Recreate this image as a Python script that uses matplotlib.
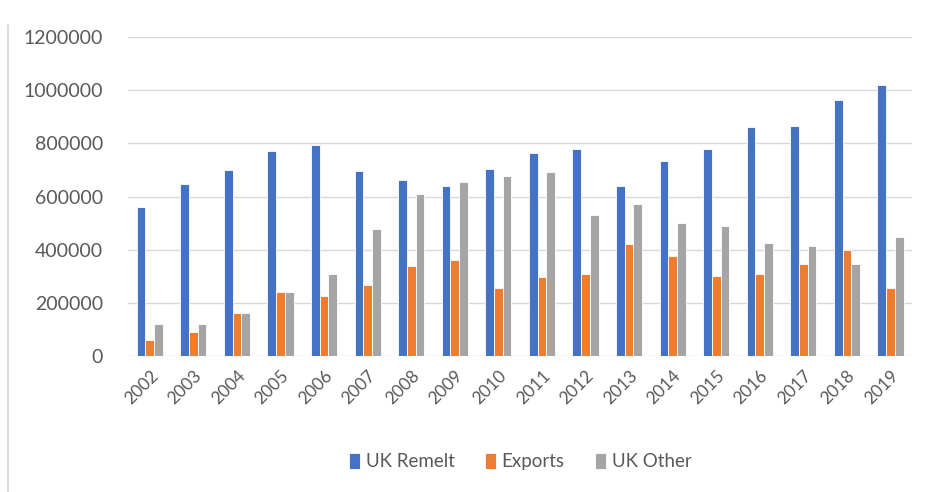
import matplotlib.pyplot as plt
import numpy as np

years = [str(y) for y in range(2002, 2020)]
uk_remelt = [560000, 647000, 698000, 771000, 794000, 697000, 661000, 638000, 705000,
             764000, 779000, 638000, 735000, 779000, 860000, 866000, 963000, 1019000]
exports = [60000, 90000, 163000, 243000, 228000, 266000, 339000, 361000, 258000,
           296000, 310000, 420000, 375000, 302000, 310000, 346000, 398000, 258000]
uk_other = [120000, 120000, 163000, 243000, 308000, 478000, 609000, 653000, 676000,
            691000, 529000, 573000, 499000, 491000, 426000, 413000, 346000, 449000]

plt.rcParams['font.family'] = ['Lato', 'DejaVu Sans']
txt = '#595959'

fig = plt.figure(figsize=(9.28, 4.92), dpi=100)
ax = fig.add_axes([0.138, 0.276, 0.845, 0.649])

x = np.arange(len(years))
w = 0.2
ax.bar(x - w, uk_remelt, w, color='#4472C4', edgecolor='white', linewidth=0.6, label='UK Remelt', zorder=3)
ax.bar(x, exports, w, color='#ED7D31', edgecolor='white', linewidth=0.6, label='Exports', zorder=3)
ax.bar(x + w, uk_other, w, color='#A5A5A5', edgecolor='white', linewidth=0.6, label='UK Other', zorder=3)

ax.set_xlim(-0.5, len(years) - 0.5)
ax.set_ylim(0, 1200000)
ax.set_yticks(range(0, 1200001, 200000))
ax.set_yticklabels([str(v) for v in range(0, 1200001, 200000)], fontsize=14, color=txt)
ax.set_xticks(x)
ax.set_xticklabels(years, rotation=45, ha='right', rotation_mode='anchor', fontsize=12.5, color=txt)
ax.tick_params(length=0, pad=18)
ax.tick_params(axis='x', pad=8)
ax.grid(axis='y', color='#D9D9D9', linewidth=1, zorder=0)
for s in ax.spines.values():
    s.set_visible(False)

ax.legend(loc='center', bbox_to_anchor=(0.5, -0.33), ncol=3, frameon=False,
          fontsize=13.5, labelcolor=txt, handlelength=0.6, handleheight=0.9,
          handletextpad=0.3, columnspacing=1.6)

# light frame line at the left edge
fig.add_artist(plt.Line2D([0.009, 0.009], [0.0, 0.95], color='#D9D9D9', linewidth=1.2))

fig.savefig('out.png', dpi=100)
